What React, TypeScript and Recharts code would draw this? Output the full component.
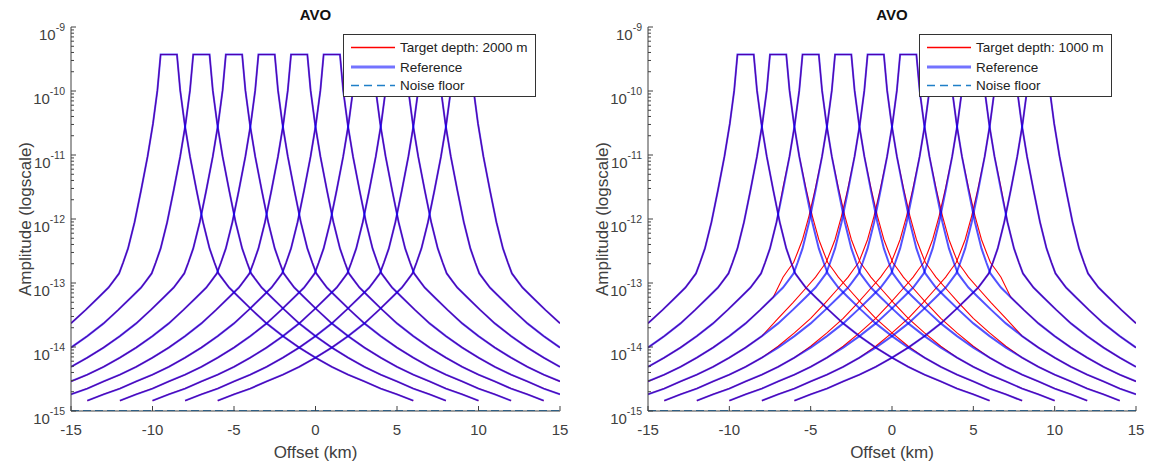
import React from "react";
import { LineChart, Line, XAxis, YAxis } from "recharts";

// source positions along the line (km)
const sources = [-9, -7, -5, -3, -1, 1, 3, 5, 7, 9];

// amplitude vs |offset| from a source
const profileOffsets = [0, 0.5, 0.7, 0.97, 1.3, 1.7, 2.1, 2.5, 2.8, 3.05, 3.4, 3.7, 4.3, 5.1, 6, 7, 8, 9, 10, 11, 12, 13, 14, 15];
const profileAmps = [
  3.72e-10, 3.72e-10, 1.02e-10, 3.09e-11, 9.5e-12, 2.82e-12, 8.9e-13, 3.47e-13, 2.09e-13, 1.41e-13,
  1.07e-13, 8.5e-14, 6.0e-14, 3.8e-14, 2.34e-14, 1.48e-14, 9.8e-15, 6.8e-15, 4.9e-15, 3.7e-15,
  2.9e-15, 2.24e-15, 1.82e-15, 1.45e-15,
];

// amplitude gain over the 1000 m target, same offsets as above
const targetGain = [1, 1, 1, 1, 1, 1.1, 1.26, 1.38, 1.45, 1.48, 1.48, 1.45, 1.38, 1.29, 1.2, 1.12, 1.05, 1, 1, 1, 1, 1, 1, 1];
const targetSources = [-7, -5, -3, -1, 1, 3, 5, 7];
const targetReach = 7; // receivers past this |x| (km) see no target

const noiseFloor = 1e-15;
const xTicks = [-15, -10, -5, 0, 5, 10, 15];
const yExponents = [-15, -14, -13, -12, -11, -10, -9];
const minorSteps = [1, 2, 3, 4, 5, 6, 7, 8, 9];

const panels = [
  { title: "AVO", depth: "Target depth: 2000 m", anomalous: [] as number[] },
  { title: "AVO", depth: "Target depth: 1000 m", anomalous: targetSources },
];

const yTicks: number[] = [];
yExponents.forEach((e) => {
  if (e === -9) yTicks.push(1e-9);
  else minorSteps.forEach((m) => yTicks.push(m * Math.pow(10, e)));
});

const FONT = "'Liberation Sans', Arial, sans-serif";
const AXIS = "#404040";
const RED = "#ff0000";
const BLUE = "#0000ff";
const NOISE = "#1f7fc8";

function curve(s: number, gain: number[] | null) {
  const pts: { x: number; y: number }[] = [];
  profileOffsets.forEach((d, i) => {
    const signs = d === 0 ? [1] : [-1, 1];
    signs.forEach((sg) => {
      const x = s + sg * d;
      if (x < -15.0001 || x > 15.0001) return;
      const g = gain && Math.abs(x) <= targetReach ? gain[i] : 1;
      pts.push({ x, y: profileAmps[i] * g });
    });
  });
  return pts.sort((a, b) => a.x - b.x);
}

function isMajor(v: number) {
  const e = Math.round(Math.log10(v));
  return Math.abs(v / Math.pow(10, e) - 1) < 1e-6;
}

function YTick(props: any) {
  const { x, y, payload, side } = props;
  const v = payload.value;
  const major = isMajor(v);
  const len = major ? 5 : 3;
  const dir = side === "left" ? 1 : -1;
  const e = Math.round(Math.log10(v));
  return (
    <g>
      <line x1={x} x2={x + dir * len} y1={y} y2={y} stroke={AXIS} strokeWidth={1} />
      {major && side === "left" && (
        <text x={x - 6} y={y + 13} textAnchor="end" fill={AXIS} fontSize={15} fontFamily={FONT}>
          10
          <tspan dy={-9} fontSize={10.5}>{e}</tspan>
        </text>
      )}
    </g>
  );
}

function XTick(props: any) {
  const { x, y, payload, side } = props;
  const dir = side === "bottom" ? -1 : 1;
  return (
    <g>
      <line x1={x} x2={x} y1={y} y2={y + dir * 5} stroke={AXIS} strokeWidth={1} />
      {side === "bottom" && (
        <text x={x} y={y + 24} textAnchor="middle" fill={AXIS} fontSize={15} fontFamily={FONT}>
          {payload.value}
        </text>
      )}
    </g>
  );
}

function Panel({ width, right, yAxisWidth, anomalous }: { width: number; right: number; yAxisWidth: number; anomalous: number[] }) {
  return (
    <LineChart width={width} height={466} margin={{ top: 27, right, left: 0, bottom: 0 }}>
      <XAxis xAxisId="b" type="number" dataKey="x" domain={[-15, 15]} ticks={xTicks} interval={0} allowDataOverflow
        height={55} tickSize={0} tickMargin={0} tickLine={false} axisLine={{ stroke: AXIS }}
        tick={(p: any) => <XTick {...p} side="bottom" />} />
      <XAxis xAxisId="t" orientation="top" type="number" dataKey="x" domain={[-15, 15]} ticks={xTicks} interval={0} allowDataOverflow
        height={0} tickSize={0} tickMargin={0} tickLine={false} axisLine={{ stroke: AXIS }}
        tick={(p: any) => <XTick {...p} side="top" />} />
      <YAxis yAxisId="l" type="number" scale="log" domain={[1e-15, 1e-9]} ticks={yTicks} interval={0} allowDataOverflow
        width={yAxisWidth} tickSize={0} tickMargin={0} tickLine={false} axisLine={{ stroke: AXIS }}
        tick={(p: any) => <YTick {...p} side="left" />} />
      <YAxis yAxisId="r" orientation="right" type="number" scale="log" domain={[1e-15, 1e-9]} ticks={yTicks} interval={0} allowDataOverflow
        width={0} tickSize={0} tickMargin={0} tickLine={false} axisLine={{ stroke: AXIS }}
        tick={(p: any) => <YTick {...p} side="right" />} />
      {sources.map((s) => (
        <Line key={"t" + s} xAxisId="b" yAxisId="l" data={curve(s, anomalous.includes(s) ? targetGain : null)}
          dataKey="y" type="linear" stroke={RED} strokeWidth={1.1} dot={false} isAnimationActive={false} />
      ))}
      {sources.map((s) => (
        <Line key={"r" + s} xAxisId="b" yAxisId="l" data={curve(s, null)}
          dataKey="y" type="linear" stroke={BLUE} strokeOpacity={0.68} strokeWidth={2} dot={false} isAnimationActive={false} />
      ))}
      <Line xAxisId="b" yAxisId="l" data={[{ x: -15, y: noiseFloor }, { x: 15, y: noiseFloor }]} dataKey="y"
        stroke={NOISE} strokeWidth={2} strokeDasharray="8 4" dot={false} isAnimationActive={false} />
    </LineChart>
  );
}

function LegendBox({ left, top, label }: { left: number; top: number; label: string }) {
  return (
    <g transform={`translate(${left},${top})`}>
      <rect x={0.5} y={0.5} width={192} height={62} fill="#fff" stroke="#333" strokeWidth={1} />
      <path d="M8 13.5 H52" stroke={RED} strokeWidth={1.6} fill="none" />
      <path d="M8 33 H52" stroke={BLUE} strokeOpacity={0.55} strokeWidth={3} fill="none" />
      <path d="M8 51.5 H52" stroke={NOISE} strokeWidth={1.6} strokeDasharray="8 5" fill="none" />
      <text x={57} y={18} fontSize={13.5} fill="#222" fontFamily={FONT}>{label}</text>
      <text x={57} y={37.5} fontSize={13.5} fill="#222" fontFamily={FONT}>Reference</text>
      <text x={57} y={56} fontSize={13.5} fill="#222" fontFamily={FONT}>Noise floor</text>
    </g>
  );
}

export default function App() {
  const plots = [
    { left: 71, right: 560 },
    { left: 648, right: 1136 },
  ];
  return (
    <div style={{ position: "absolute", left: 0, top: 0, width: 1149, height: 466, background: "#fff", overflow: "hidden" }}>
      <div style={{ position: "absolute", left: 0, top: 0 }}>
        <Panel width={580} right={20} yAxisWidth={71} anomalous={panels[0].anomalous} />
      </div>
      <div style={{ position: "absolute", left: 580, top: 0 }}>
        <Panel width={569} right={13} yAxisWidth={68} anomalous={panels[1].anomalous} />
      </div>
      <svg width={1149} height={466} style={{ position: "absolute", left: 0, top: 0, pointerEvents: "none" }}>
        {panels.map((p, i) => {
          const { left, right } = plots[i];
          const cx = (left + right) / 2;
          return (
            <g key={i}>
              <text x={cx} y={20} textAnchor="middle" fontSize={15} fontWeight="bold" fill="#111" fontFamily={FONT}>{p.title}</text>
              <text x={cx} y={458} textAnchor="middle" fontSize={17} fill={AXIS} fontFamily={FONT}>Offset (km)</text>
              <text x={left - 46} y={219} textAnchor="middle" fontSize={17} fill={AXIS} fontFamily={FONT}
                transform={`rotate(-90 ${left - 46} 219)`} dominantBaseline="central">Amplitude (logscale)</text>
              <LegendBox left={right - 217} top={34} label={p.depth} />
            </g>
          );
        })}
      </svg>
    </div>
  );
}
